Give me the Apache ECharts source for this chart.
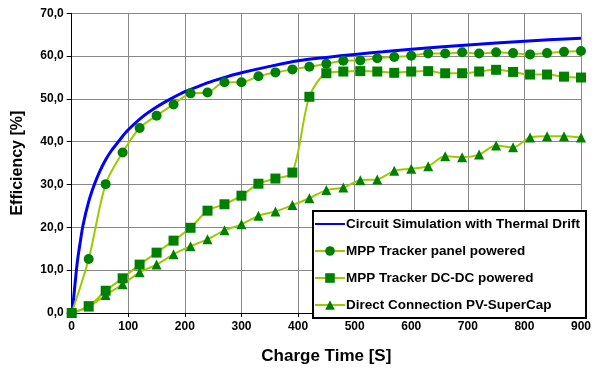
<!DOCTYPE html>
<html>
<head>
<meta charset="utf-8">
<script src="https://cdn.jsdelivr.net/npm/echarts@6/dist/echarts.min.js"></script>
<style>html,body{margin:0;padding:0;background:#fff}#c{width:594px;height:370px}</style>
</head>
<body>
<div id="c"></div>
<script>
var xTicks = [0, 100, 200, 300, 400, 500, 600, 700, 800, 900];
var yTicks = [0, 10, 20, 30, 40, 50, 60, 70];
var times = [0,30,60,90,120,150,180,210,240,270,300,330,360,390,420,450,480,510,540,570,600,630,660,690,720,750,780,810,840,870,900];
var simTimes = [0,3,6,10,15,20,30,40,50,60,70,80,90,100,125,150,175,200,225,250,275,300,350,400,450,500,550,600,700,800,900];
var simValues = [0,3,7,12,16.5,20.5,26,30,33.2,35.8,37.9,39.6,41.3,42.8,45.8,48.1,50.0,51.7,53.0,54.2,55.2,56.1,57.6,58.9,59.7,60.4,61.0,61.6,62.6,63.5,64.2];
var panelValues = [0,12.6,30.1,37.5,43.2,46.1,48.7,51.3,51.5,53.9,53.9,55.3,56.2,56.9,57.5,58.2,58.9,59.0,59.5,59.8,60.1,60.6,60.6,60.9,60.6,60.9,60.7,60.4,60.7,61.0,61.2];
var dcdcValues = [0,1.6,5.2,8.1,11.3,14.1,16.9,19.9,23.9,25.4,27.4,30.2,31.4,32.8,50.5,56.0,56.4,56.5,56.4,56.1,56.4,56.5,56.0,56.0,56.4,56.8,56.3,55.7,55.7,55.2,55.0];
var directValues = [0,1.5,4.2,6.7,9.5,11.3,13.7,15.6,17.2,19.3,20.7,22.7,23.7,25.2,26.8,28.7,29.3,31.0,31.2,33.2,33.7,34.3,36.6,36.4,37.0,39.1,38.7,41.0,41.3,41.3,41.0];
var seriesNames = ['Circuit Simulation with Thermal Drift','MPP Tracker panel powered','MPP Tracker DC-DC powered','Direct Connection PV-SuperCap'];

function pairs(xs, ys){ return xs.map(function(x,i){ return [x, ys[i]]; }); }
var FONT = '"Liberation Sans", Arial, sans-serif';
var lineGreen = '#99cc00', markGreen = '#008000';
function greenSeries(name, vals, sym, size){
  return {name:name, type:'line', data:pairs(times, vals), smooth:0.3,
    symbol:sym, symbolSize:size, showSymbol:true,
    lineStyle:{color:lineGreen, width:2},
    itemStyle:{color:markGreen, borderWidth:0},
    emphasis:{disabled:true}, z:3};
}
var chart = echarts.init(document.getElementById('c'), null, {renderer:'canvas'});
chart.setOption({
  animation:false,
  backgroundColor:'#ffffff',
  grid:{left:71.7, right:12.3, top:13.3, bottom:57, containLabel:false},
  xAxis:{type:'value', min:xTicks[0], max:xTicks[xTicks.length-1], interval:100,
    name:'Charge Time [S]', nameLocation:'middle', nameGap:35,
    nameTextStyle:{fontFamily:FONT, fontWeight:'bold', fontSize:17, color:'#000'},
    axisLine:{show:true, lineStyle:{color:'#000', width:1}},
    axisTick:{show:true, length:4, lineStyle:{color:'#000'}},
    axisLabel:{fontFamily:FONT, fontWeight:'bold', fontSize:12, color:'#000', margin:8},
    splitLine:{show:true, lineStyle:{color:'#888', width:1}}},
  yAxis:{type:'value', min:yTicks[0], max:yTicks[yTicks.length-1], interval:10,
    name:'Efficiency [%]', nameLocation:'middle', nameGap:46, nameRotate:90,
    nameTextStyle:{fontFamily:FONT, fontWeight:'bold', fontSize:16, color:'#000'},
    axisLine:{show:true, lineStyle:{color:'#000', width:1}},
    axisTick:{show:true, length:5, lineStyle:{color:'#000'}},
    axisLabel:{fontFamily:FONT, fontWeight:'bold', fontSize:12, color:'#000', margin:8,
      formatter:function(v){ return v.toFixed(1).replace('.', ','); }},
    splitLine:{show:true, lineStyle:{color:'#888', width:1}}},
  legend:{show:true, orient:'vertical', left:313, top:211,
    backgroundColor:'#fff',
    borderColor:'#000', borderWidth:2, borderRadius:0,
    padding:[6,6,6,1], itemWidth:30, itemHeight:12, itemGap:13,
    textStyle:{fontFamily:FONT, fontWeight:'bold', fontSize:13.5, color:'#000', padding:[0,0,0,-4]},
    data:[{name:seriesNames[0], itemStyle:{opacity:0}}, seriesNames[1], seriesNames[2], seriesNames[3]]},
  series:[
    {name:seriesNames[0], type:'line', data:pairs(simTimes, simValues), smooth:0.3,
      showSymbol:false, symbol:'none', lineStyle:{color:'#0000ff', width:3},
      itemStyle:{color:'#0000ff'}, emphasis:{disabled:true}, z:2},
    greenSeries(seriesNames[1], panelValues, 'circle', 10),
    greenSeries(seriesNames[2], dcdcValues, 'rect', 10),
    greenSeries(seriesNames[3], directValues, 'triangle', 10)
  ]
});
</script>
</body>
</html>
